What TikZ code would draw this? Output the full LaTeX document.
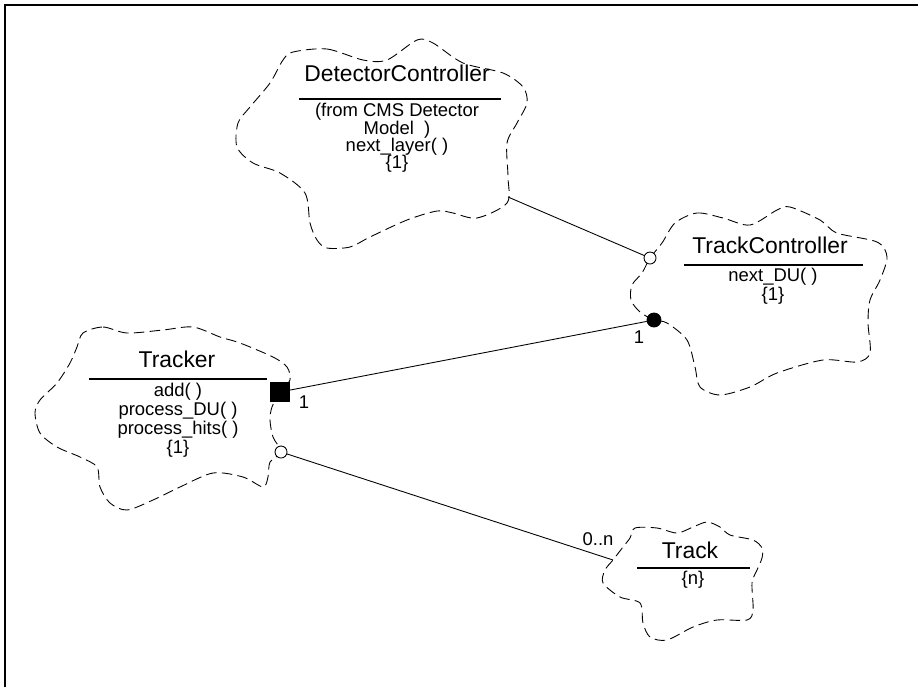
\documentclass[tikz,border=0pt]{standalone}
\usepackage{fontspec}
\setmainfont{Liberation Sans}
\usepackage{tikz}

\tikzset{
  cloudline/.style={dashed, dash pattern=on 6pt off 3pt, line width=0.5pt},
  sepline/.style={line width=0.6pt},
  classname/.style={inner sep=0pt, anchor=base, font=\fontsize{13}{13}\selectfont},
  classbody/.style={inner sep=0pt, anchor=north, align=center, font=\fontsize{10.5}{9}\selectfont},
  multlabel/.style={inner sep=0pt, anchor=base, font=\fontsize{10.5}{10}\selectfont},
  opendot/.style={circle, draw, fill=white, line width=0.5pt, inner sep=0pt, minimum size=0.24cm},
  fulldot/.style={circle, draw, fill=black, inner sep=0pt, minimum size=0.28cm},
  fullsq/.style={rectangle, draw, fill=black, inner sep=0pt, minimum size=0.38cm},
}

\begin{document}
\begin{tikzpicture}[x=0.02cm, y=-0.02cm, line width=0.5pt]
  \useasboundingbox (0,0) rectangle (918,687);
  \draw[line width=0.9pt] (5,687) -- (5,5) -- (918,5);

  % class clouds
  \draw[cloudline] plot[smooth cycle] coordinates {
    (293,52) (327,49) (363,60) (387,60) (417,40) (433,43) (463,63) (503,73)
    (523,87) (527,103) (517,123) (507,143) (508,177) (507,203) (477,218)
    (453,213) (437,211) (407,220) (370,237) (350,247) (327,248) (317,240)
    (310,223) (305,193) (280,173) (253,163) (237,147) (238,123) (250,107)
    (270,83) (283,60)};
  \draw[cloudline] plot[smooth cycle] coordinates {
    (675,223) (697,213) (723,218) (750,225) (777,210) (790,207) (820,220)
    (837,233) (877,242) (887,257) (880,280) (870,300) (868,323) (870,353)
    (857,362) (823,360) (777,373) (750,387) (720,395) (700,387) (695,367)
    (687,340) (667,323) (654,320) (640,312) (631,300) (632,285) (642,273)
    (650,258) (662,243)};
  \draw[cloudline] plot[smooth cycle] coordinates {
    (83,333) (103,327) (127,333) (163,330) (193,327) (220,337) (240,343)
    (273,357) (287,367) (290,380) (280,392) (272,407) (270,420) (273,437)
    (281,452) (270,462) (268,477) (263,487) (243,477) (213,473) (180,487)
    (153,500) (127,510) (110,503) (100,487) (97,467) (80,457) (57,447)
    (40,433) (35,413) (40,400) (57,383) (70,363) (77,347)};
  \draw[cloudline] plot[smooth cycle] coordinates {
    (630,538) (635,528) (657,528) (677,533) (693,527) (707,522) (720,527)
    (730,535) (753,540) (762,548) (762,558) (757,570) (752,583) (753,610)
    (747,620) (717,620) (693,627) (667,640) (650,637) (643,623) (640,603)
    (620,597) (603,583) (605,570) (613,560) (623,547)};

  % names and members
  \node[classname] (dc) at (397,81) {DetectorController};
  \draw[sepline] (299,99) -- (501,99);
  \node[classbody, font=\fontsize{10.5}{9.8}\selectfont] (dcbody) at (397,103)
    {(from CMS Detector\\Model~~)\\next\_layer(~)\\\{1\}};

  \node[classname] (tc) at (770,253) {TrackController};
  \draw[sepline] (684,265) -- (863,265);
  \node[classbody] (tcbody) at (773,268) {next\_DU(~)\\\{1\}};

  \node[classname] (tr) at (177,367) {Tracker};
  \draw[sepline] (89,379) -- (267,379);
  \node[classbody] (trbody) at (178,383) {add(~)\\process\_DU(~)\\process\_hits(~)\\\{1\}};

  \node[classname] (tk) at (690,558) {Track};
  \draw[sepline] (637,568) -- (750,568);
  \node[classbody] (tkbody) at (693,571) {\{n\}};

  % ports
  \coordinate (dcport) at (508,197);
  \coordinate (tkport) at (613,560);
  \node[opendot] (tcuse) at (650,258) {};
  \node[fulldot] (tchas) at (654,320) {};
  \node[fullsq] (trhas) at (280,392) {};
  \node[opendot] (truse) at (281,452) {};

  \draw (dcport) -- (tcuse);
  \draw (trhas) -- (tchas);
  \draw (truse) -- (tkport);

  \node[multlabel] (m1) at (304,408) {1};
  \node[multlabel] (m2) at (639,343) {1};
  \node[multlabel] (m3) at (598,545) {0..n};
\end{tikzpicture}
\end{document}
